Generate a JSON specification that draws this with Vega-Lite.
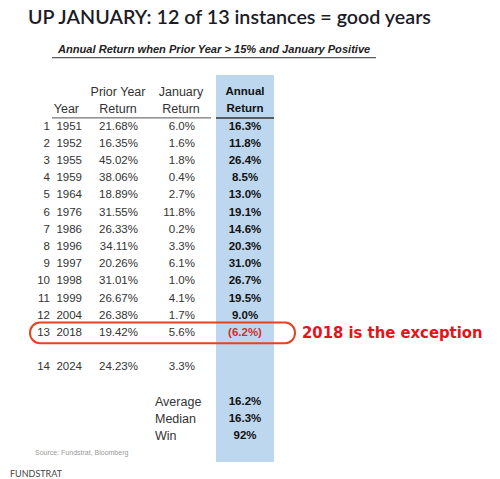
{
  "$schema": "https://vega.github.io/schema/vega-lite/v6.json",
  "description": "Up January table: annual return when prior year > 15% and January positive",
  "width": 500,
  "height": 479,
  "autosize": {"type": "none"},
  "padding": 0,
  "background": "white",
  "config": {"view": {"stroke": null}, "text": {"font": "Liberation Sans", "fontSize": 11.5, "color": "#333", "baseline": "middle"}},
  "datasets": {
    "rows": [
      {"n": 1, "line": 1, "year": "1951", "prior": "21.68%", "jan": "6.0%", "annual": "16.3%"},
      {"n": 2, "line": 2, "year": "1952", "prior": "16.35%", "jan": "1.6%", "annual": "11.8%"},
      {"n": 3, "line": 3, "year": "1955", "prior": "45.02%", "jan": "1.8%", "annual": "26.4%"},
      {"n": 4, "line": 4, "year": "1959", "prior": "38.06%", "jan": "0.4%", "annual": "8.5%"},
      {"n": 5, "line": 5, "year": "1964", "prior": "18.89%", "jan": "2.7%", "annual": "13.0%"},
      {"n": 6, "line": 6, "year": "1976", "prior": "31.55%", "jan": "11.8%", "annual": "19.1%"},
      {"n": 7, "line": 7, "year": "1986", "prior": "26.33%", "jan": "0.2%", "annual": "14.6%"},
      {"n": 8, "line": 8, "year": "1996", "prior": "34.11%", "jan": "3.3%", "annual": "20.3%"},
      {"n": 9, "line": 9, "year": "1997", "prior": "20.26%", "jan": "6.1%", "annual": "31.0%"},
      {"n": 10, "line": 10, "year": "1998", "prior": "31.01%", "jan": "1.0%", "annual": "26.7%"},
      {"n": 11, "line": 11, "year": "1999", "prior": "26.67%", "jan": "4.1%", "annual": "19.5%"},
      {"n": 12, "line": 12, "year": "2004", "prior": "26.38%", "jan": "1.7%", "annual": "9.0%"},
      {"n": 13, "line": 13, "year": "2018", "prior": "19.42%", "jan": "5.6%", "annual": "(6.2%)"},
      {"n": 14, "line": 15, "year": "2024", "prior": "24.23%", "jan": "3.3%", "annual": ""}
    ],
    "stats": [
      {"stat": "Average", "value": "16.2%", "line": 17},
      {"stat": "Median", "value": "16.3%", "line": 18},
      {"stat": "Win", "value": "92%", "line": 19}
    ]
  },
  "layer": [
    {
      "data": {"values": [{}]},
      "mark": {"type": "rect", "color": "#bdd7ee"},
      "encoding": {
        "x": {"datum": 216, "type": "quantitative", "scale": {"domain": [0, 500], "range": [0, 500], "nice": false, "zero": false}, "axis": null},
        "x2": {"datum": 274},
        "y": {"datum": -2, "type": "quantitative", "scale": {"domain": [-6.355, 21.494], "range": [0, 479], "nice": false, "zero": false}, "axis": null},
        "y2": {"datum": 20.5}
      }
    },
    {
      "data": {"values": [{}]},
      "mark": {"type": "rule", "color": "#555", "strokeWidth": 1},
      "encoding": {
        "x": {"datum": 52, "type": "quantitative"},
        "x2": {"datum": 211},
        "y": {"datum": 0.5, "type": "quantitative"}
      }
    },
    {
      "data": {"values": [{}]},
      "mark": {"type": "rule", "color": "#333", "strokeWidth": 1.5},
      "encoding": {
        "x": {"datum": 216, "type": "quantitative"},
        "x2": {"datum": 274},
        "y": {"datum": 0.5, "type": "quantitative"}
      }
    },
    {
      "data": {"values": [{}]},
      "mark": {"type": "rule", "color": "#333", "strokeWidth": 1},
      "encoding": {
        "x": {"datum": 52, "type": "quantitative"},
        "x2": {"datum": 376},
        "y": {"datum": -3, "type": "quantitative"}
      }
    },
    {
      "data": {"values": [{"label": "Prior Year", "line": -1}, {"label": "Return", "line": 0}]},
      "mark": {"type": "text", "align": "center", "fontSize": 12.5},
      "encoding": {
        "x": {"datum": 118, "type": "quantitative"},
        "y": {"field": "line", "type": "quantitative"},
        "text": {"field": "label"}
      }
    },
    {
      "data": {"values": [{"label": "January", "line": -1}, {"label": "Return", "line": 0}]},
      "mark": {"type": "text", "align": "center", "fontSize": 12.5},
      "encoding": {
        "x": {"datum": 181, "type": "quantitative"},
        "y": {"field": "line", "type": "quantitative"},
        "text": {"field": "label"}
      }
    },
    {
      "data": {"values": [{"label": "Annual", "line": -1}, {"label": "Return", "line": 0}]},
      "mark": {"type": "text", "align": "center", "fontWeight": "bold", "color": "#111"},
      "encoding": {
        "x": {"datum": 245, "type": "quantitative"},
        "y": {"field": "line", "type": "quantitative"},
        "text": {"field": "label"}
      }
    },
    {
      "data": {"values": [{"label": "Year", "line": 0}]},
      "mark": {"type": "text", "align": "right", "fontSize": 12.5},
      "encoding": {
        "x": {"datum": 79, "type": "quantitative"},
        "y": {"field": "line", "type": "quantitative"},
        "text": {"field": "label"}
      }
    },
    {
      "data": {"name": "rows"},
      "mark": {"type": "text", "align": "right"},
      "encoding": {
        "x": {"datum": 50, "type": "quantitative"},
        "y": {"field": "line", "type": "quantitative"},
        "text": {"field": "n"}
      }
    },
    {
      "data": {"name": "rows"},
      "mark": {"type": "text", "align": "right"},
      "encoding": {
        "x": {"datum": 82, "type": "quantitative"},
        "y": {"field": "line", "type": "quantitative"},
        "text": {"field": "year"}
      }
    },
    {
      "data": {"name": "rows"},
      "mark": {"type": "text", "align": "right"},
      "encoding": {
        "x": {"datum": 138, "type": "quantitative"},
        "y": {"field": "line", "type": "quantitative"},
        "text": {"field": "prior"}
      }
    },
    {
      "data": {"name": "rows"},
      "mark": {"type": "text", "align": "right"},
      "encoding": {
        "x": {"datum": 195, "type": "quantitative"},
        "y": {"field": "line", "type": "quantitative"},
        "text": {"field": "jan"}
      }
    },
    {
      "data": {"name": "rows"},
      "mark": {"type": "text", "align": "center", "fontWeight": "bold"},
      "encoding": {
        "x": {"datum": 245, "type": "quantitative"},
        "y": {"field": "line", "type": "quantitative"},
        "text": {"field": "annual"},
        "color": {"condition": {"test": "datum.n == 13", "value": "#d0302f"}, "value": "#111"}
      }
    },
    {
      "data": {"name": "stats"},
      "mark": {"type": "text", "align": "left", "fontSize": 12.5},
      "encoding": {
        "x": {"datum": 155, "type": "quantitative"},
        "y": {"field": "line", "type": "quantitative"},
        "text": {"field": "stat"}
      }
    },
    {
      "data": {"name": "stats"},
      "mark": {"type": "text", "align": "center", "fontWeight": "bold", "color": "#111"},
      "encoding": {
        "x": {"datum": 245, "type": "quantitative"},
        "y": {"field": "line", "type": "quantitative"},
        "text": {"field": "value"}
      }
    },
    {
      "data": {"values": [{}]},
      "mark": {"type": "rect", "fill": null, "fillOpacity": 0, "stroke": "#e2441f", "strokeWidth": 2, "cornerRadius": 10},
      "encoding": {
        "x": {"datum": 30, "type": "quantitative"},
        "x2": {"datum": 295},
        "y": {"datum": 12.4, "type": "quantitative"},
        "y2": {"datum": 13.6}
      }
    },
    {
      "data": {"values": [{"label": "2018 is the exception"}]},
      "mark": {"type": "text", "align": "left", "font": "DejaVu Sans Condensed, Liberation Sans, sans-serif", "fontSize": 16.5, "fontWeight": "bold", "color": "#e3141b"},
      "encoding": {
        "x": {"datum": 302, "type": "quantitative"},
        "y": {"datum": 13, "type": "quantitative"},
        "text": {"field": "label"}
      }
    },
    {
      "data": {"values": [{"label": "UP JANUARY: 12 of 13 instances = good years"}]},
      "mark": {"type": "text", "align": "left", "font": "Lato", "fontSize": 19.7, "fontWeight": 600, "color": "#1c1c28"},
      "encoding": {
        "x": {"datum": 28, "type": "quantitative"},
        "y": {"datum": -5.31, "type": "quantitative"},
        "text": {"field": "label"}
      }
    },
    {
      "data": {"values": [{"label": "Annual Return when Prior Year > 15% and January Positive"}]},
      "mark": {"type": "text", "align": "left", "fontSize": 11.1, "fontWeight": "bold", "fontStyle": "italic", "color": "#222"},
      "encoding": {
        "x": {"datum": 58, "type": "quantitative"},
        "y": {"datum": -3.45, "type": "quantitative"},
        "text": {"field": "label"}
      }
    },
    {
      "data": {"values": [{"label": "Source: Fundstrat, Bloomberg"}]},
      "mark": {"type": "text", "align": "left", "fontSize": 7, "color": "#999"},
      "encoding": {
        "x": {"datum": 35, "type": "quantitative"},
        "y": {"datum": 20, "type": "quantitative"},
        "text": {"field": "label"}
      }
    },
    {
      "data": {"values": [{"label": "FUNDSTRAT"}]},
      "mark": {"type": "text", "align": "left", "font": "Lato", "fontSize": 9, "color": "#444"},
      "encoding": {
        "x": {"datum": 10, "type": "quantitative"},
        "y": {"datum": 21.2, "type": "quantitative"},
        "text": {"field": "label"}
      }
    }
  ]
}
